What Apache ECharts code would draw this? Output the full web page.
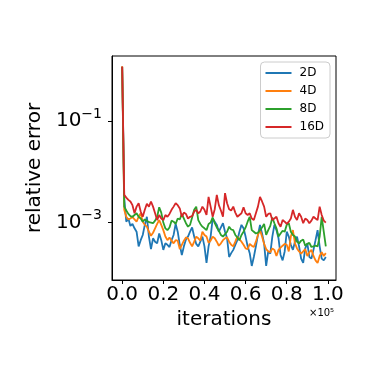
<!DOCTYPE html>
<html>
<head>
<meta charset="utf-8">
<script src="https://cdn.jsdelivr.net/npm/echarts@6/dist/echarts.min.js"></script>
<style>
  html, body { margin: 0; padding: 0; background: #fff; }
  #chart { width: 374px; height: 374px; }
</style>
</head>
<body>
<div id="chart"></div>
<script>
// iteration count of each sample
var iterations = [
  0, 1000, 2000, 3000, 4000, 5000, 6000, 7000, 8000, 9000,
  10000, 11000, 12000, 13000, 14000, 15000, 16000, 17000, 18000, 19000,
  20000, 21000, 22000, 23000, 24000, 25000, 26000, 27000, 28000, 29000,
  30000, 31000, 32000, 33000, 34000, 35000, 36000, 37000, 38000, 39000,
  40000, 41000, 42000, 43000, 44000, 45000, 46000, 47000, 48000, 49000,
  50000, 51000, 52000, 53000, 54000, 55000, 56000, 57000, 58000, 59000,
  60000, 61000, 62000, 63000, 64000, 65000, 66000, 67000, 68000, 69000,
  70000, 71000, 72000, 73000, 74000, 75000, 76000, 77000, 78000, 79000,
  80000, 81000, 82000, 83000, 84000, 85000, 86000, 87000, 88000, 89000,
  90000, 91000, 92000, 93000, 94000, 95000, 96000, 97000, 98000, 99000
];

var err2D = [
  1.18, 3.0e-3, 1.04e-3, 1.2e-3, 8.6e-4, 9.4e-4, 7.7e-4, 6.6e-4, 3.4e-4, 4.5e-4,
  5.7e-4, 9.0e-4, 1.3e-3, 5.3e-4, 3.0e-4, 4.9e-4, 4.2e-4, 3.9e-4, 6.1e-4, 4.5e-4,
  2.9e-4, 3.9e-4, 3.65e-4, 3.3e-4, 4.5e-4, 5.7e-4, 9.4e-4, 6.6e-4, 3.65e-4, 2.3e-4,
  3.4e-4, 4.65e-4, 5.3e-4, 6.6e-4, 8.0e-4, 5.3e-4, 3.8e-4, 3.4e-4, 4.2e-4, 5.3e-4,
  3.4e-4, 1.6e-4, 3.4e-4, 5.3e-4, 1.2e-3, 1.04e-3, 9.0e-4, 6.6e-4, 8.0e-4, 9.7e-4,
  6.6e-4, 4.9e-4, 2.1e-4, 2.5e-4, 2.9e-4, 3.65e-4, 4.5e-4, 6.6e-4, 9.0e-4, 7.7e-4,
  5.3e-4, 3.4e-4, 2.5e-4, 1.4e-4, 2.1e-4, 3.4e-4, 5.7e-4, 9.0e-4, 6.1e-4, 3.9e-4,
  1.4e-4, 2.7e-4, 2.45e-4, 5.3e-4, 9.0e-4, 7.1e-4, 4.9e-4, 2.3e-4, 1.8e-4, 2.7e-4,
  6.6e-4, 5.3e-4, 3.65e-4, 2.9e-4, 4.2e-4, 5.3e-4, 3.4e-4, 1.95e-4, 1.6e-4, 3.1e-4,
  3.9e-4, 2.1e-4, 1.95e-4, 2.9e-4, 4.5e-4, 7.1e-4, 3.4e-4, 1.95e-4, 1.8e-4, 2.1e-4
];

var err4D = [
  1.2, 1.78e-3, 1.3e-3, 1.15e-3, 1.2e-3, 1.3e-3, 1.15e-3, 1.04e-3, 1.3e-3, 1.52e-3,
  1.04e-3, 9.0e-4, 8.3e-4, 6.6e-4, 5.5e-4, 6.3e-4, 7.7e-4, 9.4e-4, 1.12e-3, 9.0e-4,
  7.1e-4, 5.3e-4, 4.5e-4, 5.1e-4, 4.4e-4, 3.9e-4, 4.5e-4, 4.4e-4, 3.0e-4, 3.65e-4,
  4.4e-4, 5.1e-4, 4.9e-4, 4.0e-4, 3.4e-4, 4.2e-4, 5.3e-4, 4.9e-4, 4.4e-4, 6.6e-4,
  5.7e-4, 5.3e-4, 4.0e-4, 4.4e-4, 5.3e-4, 4.9e-4, 4.2e-4, 3.5e-4, 3.9e-4, 4.5e-4,
  4.9e-4, 5.1e-4, 4.2e-4, 3.65e-4, 3.4e-4, 4.2e-4, 5.3e-4, 4.65e-4, 4.2e-4, 3.65e-4,
  3.1e-4, 3.0e-4, 3.8e-4, 3.5e-4, 3.3e-4, 4.2e-4, 5.7e-4, 7.1e-4, 5.3e-4, 3.8e-4,
  3.0e-4, 2.7e-4, 2.6e-4, 3.1e-4, 2.9e-4, 2.2e-4, 2.9e-4, 3.2e-4, 3.5e-4, 3.8e-4,
  3.65e-4, 2.7e-4, 5.3e-4, 7.1e-4, 3.9e-4, 3.1e-4, 2.7e-4, 2.45e-4, 2.7e-4, 3.0e-4,
  2.2e-4, 2.6e-4, 2.9e-4, 2.2e-4, 1.8e-4, 1.6e-4, 2.2e-4, 2.6e-4, 2.2e-4, 2.5e-4
];

var err8D = [
  1.15, 2.06e-3, 1.73e-3, 1.48e-3, 1.34e-3, 1.3e-3, 1.41e-3, 1.52e-3, 1.3e-3, 1.2e-3,
  1.04e-3, 1.15e-3, 1.09e-3, 1.02e-3, 1.0e-3, 9.7e-4, 1.09e-3, 1.3e-3, 2.0e-3, 1.57e-3,
  1.0e-3, 7.7e-4, 7.1e-4, 8.0e-4, 1.09e-3, 1.04e-3, 9.4e-4, 1.2e-3, 1.15e-3, 1.48e-3,
  1.2e-3, 9.7e-4, 8.3e-4, 9.0e-4, 1.26e-3, 1.78e-3, 2.06e-3, 1.12e-3, 9.4e-4, 8.3e-4,
  7.7e-4, 7.1e-4, 9.4e-4, 1.0e-3, 1.26e-3, 9.7e-4, 8.0e-4, 6.9e-4, 5.7e-4, 5.3e-4,
  5.9e-4, 6.6e-4, 8.3e-4, 7.3e-4, 7.1e-4, 5.7e-4, 5.1e-4, 4.5e-4, 5.7e-4, 6.6e-4,
  8.0e-4, 1.04e-3, 1.3e-3, 7.1e-4, 6.6e-4, 6.1e-4, 6.3e-4, 7.1e-4, 8.0e-4, 9.4e-4,
  5.7e-4, 7.1e-4, 8.6e-4, 1.26e-3, 9.7e-4, 7.7e-4, 5.3e-4, 6.1e-4, 6.9e-4, 6.6e-4,
  9.0e-4, 9.7e-4, 6.6e-4, 5.7e-4, 5.3e-4, 4.2e-4, 3.9e-4, 4.4e-4, 4.65e-4, 3.5e-4,
  3.8e-4, 4.0e-4, 3.3e-4, 3.4e-4, 3.5e-4, 3.4e-4, 5.3e-4, 1.3e-3, 6.6e-4, 3.4e-4
];

var err16D = [
  1.17, 3.5e-3, 3.1e-3, 2.8e-3, 2.6e-3, 2.2e-3, 1.52e-3, 2.06e-3, 2.4e-3, 1.65e-3,
  1.3e-3, 1.78e-3, 2.35e-3, 2.06e-3, 2.6e-3, 2.06e-3, 1.52e-3, 1.12e-3, 1.41e-3, 1.2e-3,
  1.12e-3, 1.41e-3, 1.3e-3, 1.48e-3, 1.78e-3, 2.06e-3, 2.4e-3, 2.2e-3, 1.9e-3, 1.3e-3,
  1.57e-3, 1.48e-3, 1.2e-3, 1.3e-3, 1.34e-3, 1.65e-3, 1.78e-3, 1.52e-3, 1.65e-3, 2.06e-3,
  1.78e-3, 1.41e-3, 3.2e-3, 2.06e-3, 1.3e-3, 1.83e-3, 3.5e-3, 2.2e-3, 1.73e-3, 1.3e-3,
  3.8e-3, 2.4e-3, 1.83e-3, 1.73e-3, 2.06e-3, 1.57e-3, 1.3e-3, 1.41e-3, 1.52e-3, 2.0e-3,
  1.52e-3, 1.41e-3, 1.52e-3, 1.2e-3, 1.12e-3, 1.52e-3, 2.06e-3, 3.2e-3, 2.6e-3, 2.06e-3,
  1.3e-3, 1.48e-3, 1.52e-3, 1.12e-3, 1.2e-3, 1.3e-3, 9.7e-4, 8.3e-4, 1.12e-3, 1.04e-3,
  9.4e-4, 1.04e-3, 1.2e-3, 1.78e-3, 1.3e-3, 1.12e-3, 1.52e-3, 1.3e-3, 9.7e-4, 1.2e-3,
  1.12e-3, 9.7e-4, 1.09e-3, 1.3e-3, 1.2e-3, 1.12e-3, 2.06e-3, 1.41e-3, 1.09e-3, 1.0e-3
];

var seriesNames = ['2D', '4D', '8D', '16D'];
var seriesColors = ['#1f77b4', '#ff7f0e', '#2ca02c', '#d62728'];
var xTicks = [0, 20000, 40000, 60000, 80000, 100000];
var yTicks = [1e-3, 1e-1];

var font = 'DejaVu Sans';

function pairs(ys) {
  return ys.map(function (y, i) { return [iterations[i], y]; });
}

var allSeries = [err2D, err4D, err8D, err16D];

var chart = echarts.init(document.getElementById('chart'));

var option = {
  animation: false,
  backgroundColor: '#fff',
  grid: {
    left: 112, right: 38, top: 56, bottom: 94,
    show: true, borderColor: '#000', borderWidth: 1
  },
  legend: {
    orient: 'vertical',
    right: 44, top: 62,
    icon: 'rect',
    itemWidth: 26, itemHeight: 2, itemGap: 4,
    padding: [4, 6, 4, 5],
    borderColor: '#cccccc', borderWidth: 1, borderRadius: 4,
    backgroundColor: 'rgba(255,255,255,0.8)',
    textStyle: { fontFamily: font, fontSize: 12, lineHeight: 14, color: '#000', padding: [0, 0, 0, 3] },
    data: seriesNames
  },
  xAxis: {
    type: 'value',
    min: -4950, max: 103950,
    name: 'iterations',
    nameLocation: 'middle',
    nameGap: 28,
    nameTextStyle: { fontFamily: font, fontSize: 20, color: '#000' },
    axisLine: { show: true, onZero: false, lineStyle: { color: '#000', width: 1 } },
    axisTick: { show: true, length: 4, lineStyle: { color: '#000' }, customValues: xTicks },
    axisLabel: {
      customValues: xTicks,
      fontFamily: font, fontSize: 20, color: '#000', margin: 5,
      formatter: function (v) { return (v / 1e5).toFixed(1); }
    },
    splitLine: { show: false }
  },
  yAxis: {
    type: 'log',
    logBase: 10,
    min: 7.4e-5, max: 1.9,
    name: 'relative error',
    nameLocation: 'middle',
    nameGap: 57,
    nameTextStyle: { fontFamily: font, fontSize: 20, color: '#000' },
    axisLine: { show: true, onZero: false, lineStyle: { color: '#000', width: 1 } },
    axisTick: { show: true, length: 4, lineStyle: { color: '#000' }, customValues: yTicks },
    axisLabel: {
      customValues: yTicks,
      color: '#000', margin: 10,
      formatter: function (v) {
        var e = Math.round(Math.log10(v));
        return '{a|10}{b|\u2212' + Math.abs(e) + '}';
      },
      rich: {
        a: { fontFamily: font, fontSize: 20, lineHeight: 28, color: '#000' },
        b: { fontFamily: font, fontSize: 14, lineHeight: 16, verticalAlign: 'top', color: '#000' }
      }
    },
    splitLine: { show: false },
    minorTick: { show: false }
  },
  graphic: [{
    type: 'text',
    x: 309, y: 308,
    style: { text: '\u00d710\u2075', font: '10px "DejaVu Sans"', fill: '#000', verticalAlign: 'top' }
  }],
  series: allSeries.map(function (ys, k) {
    return {
      name: seriesNames[k],
      type: 'line',
      symbol: 'none',
      data: pairs(ys),
      lineStyle: { color: seriesColors[k], width: 1.8 },
      itemStyle: { color: seriesColors[k] }
    };
  })
};

chart.setOption(option);
</script>
</body>
</html>
